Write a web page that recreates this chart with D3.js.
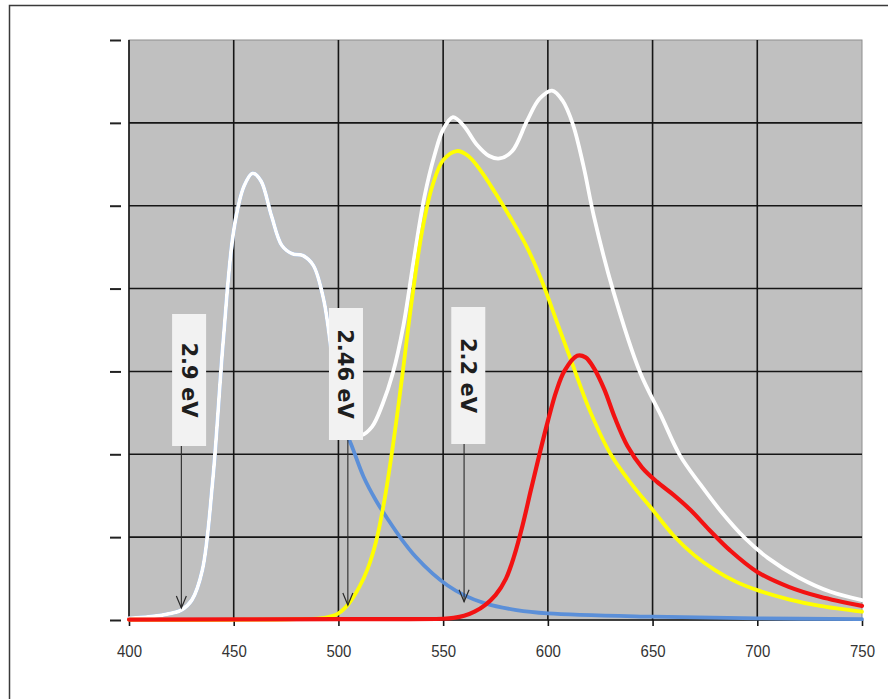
<!DOCTYPE html>
<html>
<head>
<meta charset="utf-8">
<script src="https://cdn.jsdelivr.net/npm/d3@7"></script>
<style>
  html, body { margin: 0; padding: 0; background: #fff; }
  svg { display: block; }
</style>
</head>
<body>
<svg id="chart" width="888" height="699"></svg>
<script>
// Wavelength axis (nm) and intensity ticks (arbitrary units, unlabeled)
const xTicks = [400, 450, 500, 550, 600, 650, 700, 750];
const yTicks = [0, 1, 2, 3, 4, 5, 6, 7];

// Blue emission component
const blueNm  = [400, 410, 420, 425, 430, 435, 440, 445, 450, 455, 459, 463, 468, 473, 478, 483, 488, 493, 498, 503, 507, 512, 518, 524, 530, 537, 545, 552, 560, 570, 585, 600, 650, 700, 750];
const blueVal = [0.02, 0.04, 0.08, 0.12, 0.24, 0.6, 1.69, 3.37, 4.7, 5.24, 5.39, 5.3, 4.88, 4.52, 4.42, 4.4, 4.28, 3.86, 3.01, 2.33, 2.06, 1.73, 1.44, 1.2, 0.98, 0.76, 0.56, 0.42, 0.3, 0.2, 0.12, 0.08, 0.04, 0.02, 0.01];

// Yellow emission component
const yellowNm  = [400, 480, 494, 500, 505, 510, 514, 518, 522, 526, 530, 535, 540, 545, 550, 556.6, 562, 568, 575, 582, 590, 597, 605, 612, 620, 630, 640, 650, 660, 670, 680, 690, 700, 715, 730, 750];
const yellowVal = [0.005, 0.01, 0.03, 0.08, 0.2, 0.4, 0.62, 0.95, 1.45, 2.1, 2.85, 3.85, 4.7, 5.25, 5.55, 5.66, 5.6, 5.42, 5.15, 4.86, 4.5, 4.1, 3.55, 3.07, 2.53, 2.0, 1.64, 1.33, 1.02, 0.78, 0.6, 0.46, 0.36, 0.25, 0.17, 0.1];

// Red emission component
const redNm  = [400, 500, 550, 555, 560, 565, 570, 575, 580, 584, 588, 592, 596, 600, 604, 608, 614, 618, 622, 627, 632, 638, 645, 652, 660, 668, 677, 687, 700, 715, 730, 750];
const redVal = [0.005, 0.01, 0.015, 0.025, 0.05, 0.1, 0.18, 0.3, 0.5, 0.78, 1.15, 1.58, 2.0, 2.4, 2.76, 3.01, 3.19, 3.17, 3.04, 2.78, 2.44, 2.1, 1.84, 1.67, 1.51, 1.33, 1.09, 0.84, 0.58, 0.4, 0.28, 0.17];

// Total (white) spectrum
const whiteNm  = [400, 410, 420, 425, 430, 435, 440, 445, 450, 455, 459, 463, 468, 473, 478, 483, 488, 493, 498, 503, 507, 511, 516, 521, 526, 531, 536, 541, 546, 550, 554.7, 560, 566, 572, 577, 583, 590, 596, 602, 607, 612, 617, 622, 631, 644, 654, 663, 673, 683, 694, 705, 720, 735, 750];
const whiteVal = [0.02, 0.04, 0.08, 0.12, 0.24, 0.6, 1.69, 3.37, 4.7, 5.24, 5.39, 5.3, 4.88, 4.52, 4.42, 4.4, 4.28, 3.86, 3.01, 2.4, 2.25, 2.23, 2.33, 2.6, 2.98, 3.55, 4.35, 5.1, 5.62, 5.92, 6.07, 5.96, 5.74, 5.6, 5.57, 5.66, 6.02, 6.29, 6.39, 6.27, 5.98, 5.48, 4.87, 3.99, 2.99, 2.47, 1.99, 1.63, 1.30, 0.99, 0.75, 0.51, 0.34, 0.24];

// Band-gap annotations
const gapLabels = ["2.9 eV", "2.46 eV", "2.2 eV"];
const gapArrowNm = [425, 504.5, 560];
const gapLabelNm = [428.7, 503.6, 562];
const gapArrowTip = [0.145, 0.18, 0.22];

const svg = d3.select("#chart");

const x = d3.scaleLinear().domain([400, 750]).range([129, 862]);
const y = d3.scaleLinear().domain([0, 7]).range([620, 40]);

// outer frame
svg.append("rect")
  .attr("x", 9.5).attr("y", 5.5)
  .attr("width", 900).attr("height", 720)
  .attr("fill", "none").attr("stroke", "#3a3a3a").attr("stroke-width", 1.5);

// plot area background
svg.append("rect")
  .attr("x", x(400)).attr("y", y(7))
  .attr("width", x(750) - x(400)).attr("height", y(0) - y(7))
  .attr("fill", "#c0c0c0")
  .attr("stroke", "#8e8e8e").attr("stroke-width", 1);

// grid lines
const grid = svg.append("g").attr("stroke", "#151515").attr("stroke-width", 1.6);
grid.selectAll("line.v").data(xTicks.filter(d => d < 750)).join("line")
  .attr("class", "v")
  .attr("x1", d => x(d)).attr("x2", d => x(d))
  .attr("y1", y(7)).attr("y2", y(0));
grid.selectAll("line.h").data(yTicks.filter(d => d < 7)).join("line")
  .attr("class", "h")
  .attr("x1", x(400)).attr("x2", x(750))
  .attr("y1", d => y(d)).attr("y2", d => y(d));

// x axis ticks and labels
const xAxis = svg.append("g")
  .attr("transform", `translate(0,${y(0)})`)
  .call(d3.axisBottom(x).tickValues(xTicks).tickSize(6).tickSizeOuter(0).tickPadding(0).tickFormat(d3.format("d")));
xAxis.select(".domain").remove();
xAxis.selectAll(".tick line").attr("stroke", "#151515").attr("stroke-width", 1.6);
xAxis.selectAll(".tick text")
  .attr("fill", "#333")
  .attr("font-family", "'Liberation Sans', Arial, sans-serif")
  .attr("font-size", 15)
  .attr("dy", null)
  .attr("y", 0)
  .attr("transform", "translate(0,37) scale(1,1.15)");

// y axis: tick marks only, no labels
const yAxis = svg.append("g")
  .attr("transform", `translate(121,0)`)
  .call(d3.axisLeft(y).tickValues(yTicks).tickSize(11).tickSizeOuter(0).tickFormat(""));
yAxis.select(".domain").remove();
yAxis.selectAll(".tick line").attr("stroke", "#222").attr("stroke-width", 2);

// spectra
const line = d3.line()
  .x(d => x(d[0]))
  .y(d => y(Math.max(0, d[1])))
  .curve(d3.curveCatmullRom.alpha(0.5));

const series = [
  { nm: blueNm, val: blueVal, color: "#5b8fd8", width: 3.8 },
  { nm: whiteNm, val: whiteVal, color: "#ffffff", width: 3.8 },
  { nm: yellowNm, val: yellowVal, color: "#ffff00", width: 3.8 },
  { nm: redNm, val: redVal, color: "#f21212", width: 4.2 }
];

svg.append("g").selectAll("path").data(series).join("path")
  .attr("d", s => line(s.nm.map((n, i) => [n, s.val[i]])))
  .attr("fill", "none")
  .attr("stroke", s => s.color)
  .attr("stroke-width", s => s.width)
  .attr("stroke-linejoin", "round")
  .attr("stroke-linecap", "round");

// band-gap arrows and labels
const boxTop = [314, 308, 307];
const boxBottom = [446, 440, 444];
const ann = svg.append("g");
gapLabels.forEach((label, i) => {
  const ax = x(gapArrowNm[i]);
  const tipY = y(gapArrowTip[i]);
  ann.append("line")
    .attr("x1", ax).attr("x2", ax)
    .attr("y1", boxBottom[i]).attr("y2", tipY)
    .attr("stroke", "#2a2a2a").attr("stroke-width", 1.1);
  ann.append("path")
    .attr("d", `M${ax - 5},${tipY - 12} L${ax},${tipY} L${ax + 5},${tipY - 12}`)
    .attr("fill", "none")
    .attr("stroke", "#2a2a2a").attr("stroke-width", 1.2);

  const cx = x(gapLabelNm[i]);
  ann.append("rect")
    .attr("x", cx - 17).attr("y", boxTop[i])
    .attr("width", 34).attr("height", boxBottom[i] - boxTop[i])
    .attr("fill", "#f2f2f2");
  ann.append("text")
    .attr("transform", `translate(${cx},${(boxTop[i] + boxBottom[i]) / 2}) rotate(90)`)
    .attr("text-anchor", "middle")
    .attr("dy", "0.36em")
    .attr("font-family", "'DejaVu Sans', Verdana, sans-serif")
    .attr("font-weight", "bold")
    .attr("font-size", 21)
    .attr("fill", "#1e1e1e")
    .text(label);
});
</script>
</body>
</html>
